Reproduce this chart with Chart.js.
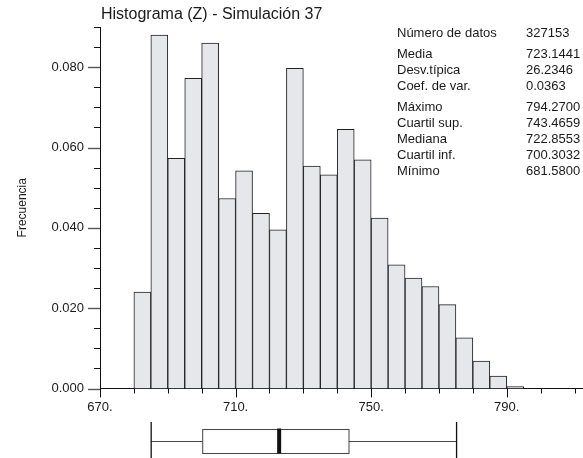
<!DOCTYPE html>
<html>
<head>
<meta charset="utf-8">
<title>Histograma (Z) - Simulación 37</title>
<script src="https://cdn.jsdelivr.net/npm/chart.js@4.4.0/dist/chart.umd.min.js"></script>
<style>
  html, body { margin: 0; padding: 0; background: #fff; }
  #wrap { width: 583px; height: 458px; }
</style>
</head>
<body>
<div id="wrap"><canvas id="hist" width="583" height="458"></canvas></div>
<script>
// histogram of Z, bins 5 units wide
const binCenters = [682.5, 687.5, 692.5, 697.5, 702.5, 707.5, 712.5, 717.5, 722.5, 727.5, 732.5, 737.5,
  742.5, 747.5, 752.5, 757.5, 762.5, 767.5, 772.5, 777.5, 782.5, 787.5, 792.5];
const frequencies = [0.0240, 0.0880, 0.0573, 0.0772, 0.0860, 0.0473, 0.0542, 0.0436, 0.0395, 0.0797, 0.0554, 0.0532,
  0.0645, 0.0569, 0.0424, 0.0308, 0.0275, 0.0254, 0.0209, 0.0126, 0.0068, 0.0031, 0.0005];

// axis ticks
const xLabelTicks = [670, 710, 750, 790];
const yLabelTicks = [0, 0.02, 0.04, 0.06, 0.08];

// box plot under the axis
const boxWhiskers = [685.1, 775.2];
const boxQuartiles = [700.3032, 743.4659];
const boxMedian = 722.8553;

// stats panel
const statLabels = ['Número de datos', 'Media', 'Desv.típica', 'Coef. de var.', 'Máximo', 'Cuartil sup.', 'Mediana', 'Cuartil inf.', 'Mínimo'];
const statValues = ['327153', '723.1441', '26.2346', '0.0363', '794.2700', '743.4659', '722.8553', '700.3032', '681.5800'];
const statGroups = [1, 3, 5];

const chartTitle = 'Histograma (Z) - Simulación 37';
const FONT = '"Liberation Sans", Arial, sans-serif';
const TEXT = '#1a1a1a';

const isLabelX = v => xLabelTicks.some(t => Math.abs(t - v) < 1e-6);
const isLabelY = v => yLabelTicks.some(t => Math.abs(t - v) < 1e-6);

function line(ctx, x1, y1, x2, y2) {
  ctx.beginPath();
  ctx.moveTo(x1, y1);
  ctx.lineTo(x2, y2);
  ctx.stroke();
}

// ticks, title, stats and box plot
const decorPlugin = {
  id: 'decor',
  afterDraw(chart) {
    const ctx = chart.ctx;
    const area = chart.chartArea;
    const xs = chart.scales.x;
    const ys = chart.scales.y;
    ctx.save();
    ctx.strokeStyle = '#111';
    ctx.lineWidth = 1;

    ys.ticks.forEach(t => {
      const py = Math.round(ys.getPixelForValue(t.value)) + 0.5;
      const len = isLabelY(t.value) ? 12 : 6;
      ctx.strokeStyle = isLabelY(t.value) ? '#555' : '#111';
      ctx.lineWidth = isLabelY(t.value) ? 1.4 : 1;
      line(ctx, area.left - len, py, area.left, py);
    });
    ctx.strokeStyle = '#111';
    ctx.lineWidth = 1;
    xs.ticks.forEach(t => {
      const px = Math.round(xs.getPixelForValue(t.value)) + 0.5;
      const len = isLabelX(t.value) ? 9 : 5;
      line(ctx, px, area.bottom, px, area.bottom + len);
    });

    // title
    ctx.fillStyle = TEXT;
    ctx.textBaseline = 'middle';
    ctx.textAlign = 'left';
    ctx.font = '16px ' + FONT;
    ctx.fillText(chartTitle, area.left + 1, 15);

    // stats panel
    ctx.font = '13px ' + FONT;
    let y = 33;
    let row = 0;
    statGroups.forEach(n => {
      for (let i = 0; i < n; i++) {
        ctx.fillText(statLabels[row], 397, y);
        ctx.fillText(statValues[row], 526, y);
        row++;
        y += 16;
      }
      y += 5;
    });

    // box plot
    const b = area.bottom;
    const w0 = xs.getPixelForValue(boxWhiskers[0]);
    const w1 = xs.getPixelForValue(boxWhiskers[1]);
    const q1 = xs.getPixelForValue(boxQuartiles[0]);
    const q3 = xs.getPixelForValue(boxQuartiles[1]);
    const md = xs.getPixelForValue(boxMedian);
    const mid = Math.round(b + 52) + 0.5;
    ctx.strokeStyle = '#444';
    ctx.lineWidth = 1;
    line(ctx, w0, mid, q1, mid);
    line(ctx, q3, mid, w1, mid);
    ctx.strokeRect(q1, Math.round(b + 40) + 0.5, q3 - q1, 24);
    ctx.strokeStyle = '#111';
    ctx.lineWidth = 1.3;
    line(ctx, w0, b + 33.5, w0, b + 71);
    line(ctx, w1, b + 33.5, w1, b + 71);
    ctx.fillStyle = '#111';
    ctx.fillRect(md - 2, b + 40, 4, 25);
    ctx.restore();
  }
};

const ctx = document.getElementById('hist').getContext('2d');
new Chart(ctx, {
  type: 'bar',
  data: {
    datasets: [{
      data: binCenters.map((x, i) => ({ x, y: frequencies[i] })),
      backgroundColor: '#e6e7ea',
      borderColor: '#222',
      borderWidth: 1,
      barPercentage: 1,
      categoryPercentage: 1,
      borderSkipped: 'bottom'
    }]
  },
  options: {
    responsive: false,
    animation: false,
    devicePixelRatio: 1,
    layout: { padding: { top: 27, right: 0, left: 0, bottom: 0 } },
    plugins: { legend: { display: false }, tooltip: { enabled: false } },
    scales: {
      x: {
        type: 'linear',
        min: 670,
        max: 812.5,
        offset: false,
        grid: { display: false, drawTicks: true, tickLength: 9 },
        border: { display: true, color: '#111', width: 1 },
        ticks: {
          stepSize: 10,
          includeBounds: false,
          autoSkip: false,
          maxRotation: 0,
          padding: 2,
          color: TEXT,
          font: { family: FONT, size: 13 },
          callback: v => isLabelX(v) ? v + '.' : ''
        },
        afterFit: s => { s.height = 69.5; }
      },
      y: {
        min: 0,
        max: 0.09,
        grid: { display: false, drawTicks: true, tickLength: 12 },
        border: { display: true, color: '#111', width: 1 },
        ticks: {
          stepSize: 0.005,
          autoSkip: false,
          padding: 4,
          color: TEXT,
          font: { family: FONT, size: 13 },
          callback: v => isLabelY(v) ? v.toFixed(3) : ''
        },
        title: {
          display: true,
          text: 'Frecuencia',
          color: TEXT,
          font: { family: FONT, size: 12 },
          padding: { top: 15, bottom: 0 }
        },
        afterFit: s => { s.width = 100; }
      }
    }
  },
  plugins: [decorPlugin]
});
</script>
</body>
</html>
